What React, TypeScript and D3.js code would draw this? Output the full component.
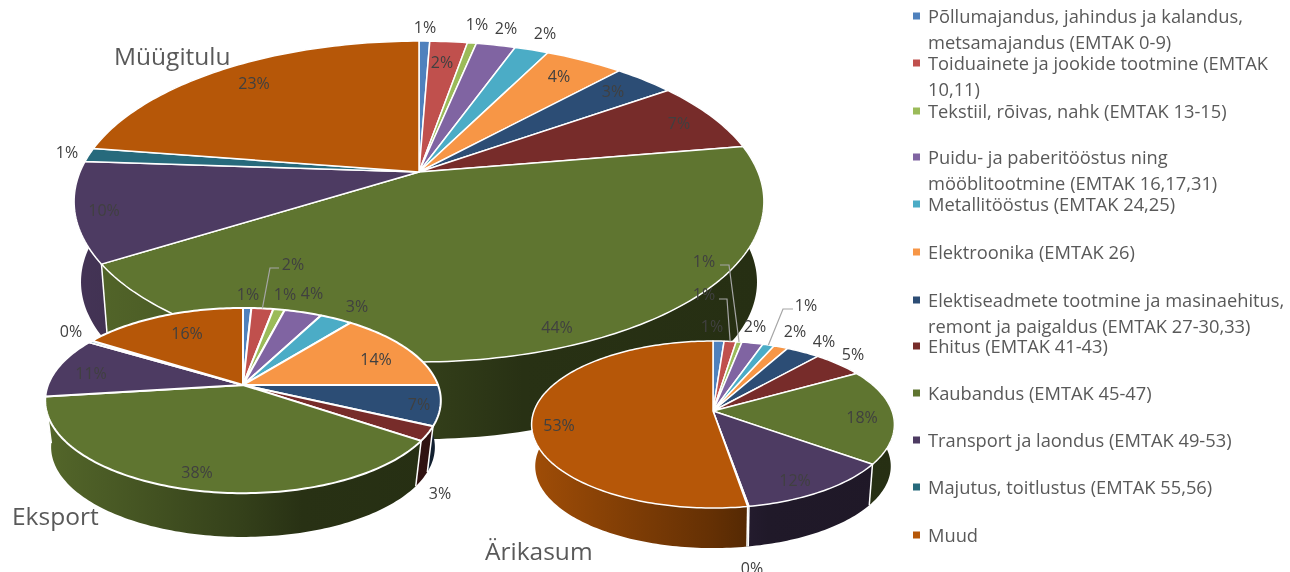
import * as d3 from "d3";

const sectors = [
  ["Põllumajandus, jahindus ja kalandus,", "metsamajandus (EMTAK 0-9)"],
  ["Toiduainete ja jookide tootmine (EMTAK", "10,11)"],
  ["Tekstiil, rõivas, nahk (EMTAK 13-15)"],
  ["Puidu- ja paberitööstus ning", "mööblitootmine (EMTAK 16,17,31)"],
  ["Metallitööstus (EMTAK 24,25)"],
  ["Elektroonika (EMTAK 26)"],
  ["Elektiseadmete tootmine ja masinaehitus,", "remont ja paigaldus (EMTAK 27-30,33)"],
  ["Ehitus (EMTAK 41-43)"],
  ["Kaubandus (EMTAK 45-47)"],
  ["Transport ja laondus (EMTAK 49-53)"],
  ["Majutus, toitlustus (EMTAK 55,56)"],
  ["Muud"],
];
const sectorColors = ["#4F81BD", "#C0504D", "#9BBB59", "#8064A2", "#4BACC6", "#F79646", "#2C4D75", "#772C2A", "#5F7530", "#4D3B62", "#276A7C", "#B65708"];

const muugituluValues = [0.6, 2.1, 0.5, 2.2, 1.9, 4.4, 3.4, 7.2, 43.7, 10.1, 1.4, 22.5];
const muugituluLabels = ["1%", "2%", "1%", "2%", "2%", "4%", "3%", "7%", "44%", "10%", "1%", "23%"];
const eksportValues = [0.8, 2.1, 1.1, 3.6, 3.1, 14.3, 7.0, 2.5, 38.5, 10.6, 0.4, 16.0];
const eksportLabels = ["1%", "2%", "1%", "4%", "3%", "14%", "7%", "3%", "38%", "11%", "0%", "16%"];
const arikasumValues = [1.15, 1.25, 0.6, 2.2, 1.2, 1.5, 3.5, 5.3, 18.4, 12.2, 0.1, 52.6];
const arikasumLabels = ["1%", "1%", "1%", "2%", "1%", "2%", "4%", "5%", "18%", "12%", "0%", "53%"];

// layout
const legendY = [16, 63, 111, 157, 204, 252, 300, 346, 393, 440, 487, 535];
const pies = [
  {
    id: "muugitulu", title: "Müügitulu", titleAt: [114, 56], values: muugituluValues, labels: muugituluLabels,
    cx: 419, cy: 172, a: 339, b: 155, k: 0.184, shrink: 0.98, depth: 81, edge: 1.5,
    labelAt: [[425, 27], [442, 62], [477, 24], [506, 28], [545, 33], [559, 76], [613, 91], [679, 123], [557, 327], [104, 210], [67, 152], [254, 83]],
    leaders: [] as { slice: number; via: number[][] }[],
  },
  {
    id: "eksport", title: "Eksport", titleAt: [12, 516], values: eksportValues, labels: eksportLabels,
    cx: 243, cy: 385, a: 195, b: 90, k: 0.168, shrink: 0.97, depth: 47, edge: 2,
    labelAt: [[248, 294], [293, 264], [285, 294], [312, 293], [357, 306], [376, 359], [419, 404], [440, 493], [197, 472], [91, 373], [71, 331], [187, 333]],
    leaders: [{ slice: 1, via: [[270, 268], [279, 268]] }],
  },
  {
    id: "arikasum", title: "Ärikasum", titleAt: [485, 551], values: arikasumValues, labels: arikasumLabels,
    cx: 713, cy: 411, a: 179, b: 81.3, k: 0.162, shrink: 0.98, depth: 42, edge: 1.5,
    labelAt: [[712, 326], [704, 294], [704, 261], [755, 326], [806, 305], [795, 331], [824, 341], [853, 354], [862, 417], [795, 480], [752, 568], [559, 425]],
    leaders: [
      { slice: 1, via: [[727, 299], [719, 299]] },
      { slice: 2, via: [[729, 265], [720, 265]] },
      { slice: 4, via: [[783, 309], [793, 309]] },
    ],
  },
];

const FONT = "'Open Sans', sans-serif";
const pieLayout = d3.pie<number>().sort(null).startAngle(0).endAngle(2 * Math.PI);
const line = d3.line();

// the pie is a tilted disc: the centre is not in the middle of the ellipse
const project = (p: (typeof pies)[number], angle: number, floor = false): [number, number] => {
  const u = Math.sin(angle);
  const v = -Math.cos(angle);
  const w = 1 - p.k * v;
  const dx = (p.a * u) / w;
  const dy = (p.b * v) / w;
  if (!floor) return [p.cx + dx, p.cy + dy];
  return [p.cx + dx * p.shrink, p.cy + dy * p.shrink + p.depth];
};

const rim = (start: number, end: number) => {
  const n = Math.max(2, Math.ceil((end - start) / 0.02));
  return d3.range(n + 1).map((i) => start + ((end - start) * i) / n);
};

const shade = (color: string, f: number) => {
  const c = d3.rgb(color);
  return d3.rgb(c.r * f, c.g * f, c.b * f).formatHex();
};
const wallStops = [[0, 0.88], [0.5, 0.55], [0.65, 0.42], [1, 0.4]];

const Pie3D = ({ pie }: { pie: (typeof pies)[number] }) => {
  const arcs = pieLayout(pie.values);
  const left = pie.cx - pie.a * 1.02;
  const right = pie.cx + pie.a * 1.02;
  // walls go back to front, so a back wall never paints over a front one
  const backToFront = arcs
    .map((d, i) => ({ d, i }))
    .sort((p, q) => Math.cos((q.d.startAngle + q.d.endAngle) / 2) - Math.cos((p.d.startAngle + p.d.endAngle) / 2));
  return (
    <g>
      <defs>
        {sectorColors.map((color, i) => (
          <linearGradient key={i} id={`${pie.id}-wall-${i}`} gradientUnits="userSpaceOnUse" x1={left} x2={right} y1={0} y2={0}>
            {wallStops.map(([t, f]) => (
              <stop key={t} offset={t} stopColor={shade(color, f)} />
            ))}
          </linearGradient>
        ))}
      </defs>
      {backToFront.map(({ d, i }) => {
        const angles = rim(d.startAngle, d.endAngle);
        const top = angles.map((t) => project(pie, t));
        const bottom = angles.map((t) => project(pie, t, true)).reverse();
        return <path key={i} d={line([...top, ...bottom]) + "Z"} fill={`url(#${pie.id}-wall-${i})`} />;
      })}
      {arcs.map((d, i) => (
        // only the front half of the rim shows its wall seams
        Math.cos(d.startAngle) < 0 ? (
          <path key={i} d={line([project(pie, d.startAngle), project(pie, d.startAngle, true)]) ?? ""} stroke="#fff" strokeWidth={1.5} fill="none" />
        ) : null
      ))}
      {arcs.map((d, i) => {
        const pts = rim(d.startAngle, d.endAngle).map((t) => project(pie, t));
        return (
          <path key={i} d={line([[pie.cx, pie.cy], ...pts]) + "Z"} fill={sectorColors[i]} stroke="#fff" strokeWidth={pie.edge} strokeLinejoin="round" />
        );
      })}
      {pie.leaders.map((l) => {
        const d = arcs[l.slice];
        const from = project(pie, (d.startAngle + d.endAngle) / 2);
        return <path key={l.slice} d={line([from, ...(l.via as [number, number][])]) ?? ""} fill="none" stroke="#a6a6a6" strokeWidth={1.2} />;
      })}
    </g>
  );
};

const PieLabels = ({ pie }: { pie: (typeof pies)[number] }) => (
  <g>
    {pie.labels.map((t, i) => (
      <text key={i} x={pie.labelAt[i][0]} y={pie.labelAt[i][1]} dy="0.36em" textAnchor="middle" fontFamily={FONT} fontSize={16} fill="#404040">
        {t}
      </text>
    ))}
    <text x={pie.titleAt[0]} y={pie.titleAt[1]} dy="0.36em" fontFamily={FONT} fontSize={24.5} fill="#595959">
      {pie.title}
    </text>
  </g>
);

export default function App() {
  return (
    <svg width={1290} height={572} style={{ position: "absolute", left: 0, top: 0 }}>
      <rect width={1290} height={572} fill="#fff" />
      {/* the source is a slightly soft screenshot */}
      <g style={{ filter: "blur(0.4px)" }}>
        {pies.map((p) => (
          <Pie3D key={p.id} pie={p} />
        ))}
        {pies.map((p) => (
          <PieLabels key={p.id} pie={p} />
        ))}
        {sectors.map((lines, i) => (
          <g key={i}>
            <rect x={913} y={legendY[i] - 3.5} width={7} height={7} fill={sectorColors[i]} />
            {lines.map((t, j) => (
              <text key={j} x={928} y={legendY[i] + j * 26} dy="0.36em" fontFamily={FONT} fontSize={18.3} fill="#595959">
                {t}
              </text>
            ))}
          </g>
        ))}
      </g>
    </svg>
  );
}
